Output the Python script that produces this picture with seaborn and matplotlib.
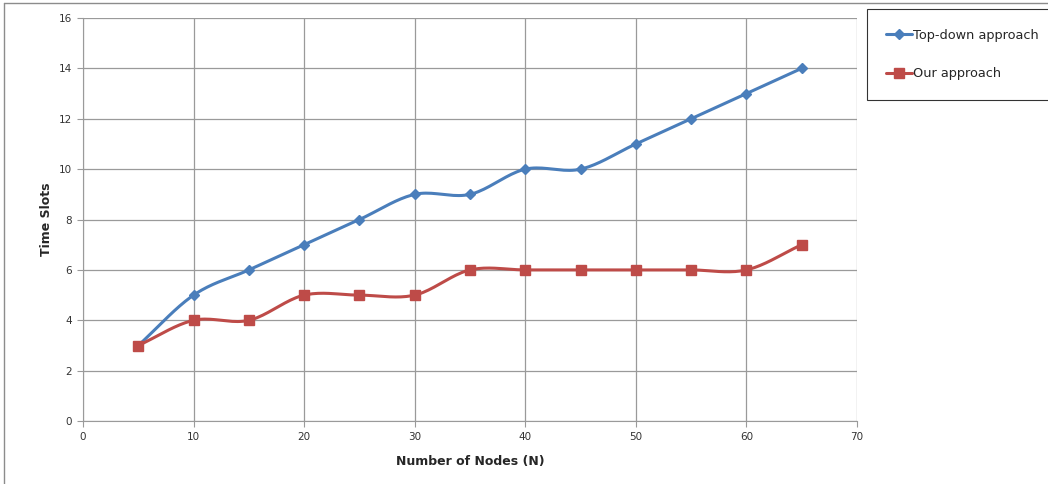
import numpy as np
import pandas as pd
import matplotlib.pyplot as plt
import seaborn as sns

nodes = [5, 10, 15, 20, 25, 30, 35, 40, 45, 50, 55, 60, 65]
top_down = [3, 5, 6, 7, 8, 9, 9, 10, 10, 11, 12, 13, 14]
ours = [3, 4, 4, 5, 5, 5, 6, 6, 6, 6, 6, 6, 7]
x_ticks = [0, 10, 20, 30, 40, 50, 60, 70]
y_ticks = [0, 2, 4, 6, 8, 10, 12, 14, 16]


def smooth(x, y, n=20):
    # Catmull-Rom curve through the points, like Excel's smoothed line
    x = np.asarray(x, float)
    y = np.asarray(y, float)
    px = np.concatenate([[2 * x[0] - x[1]], x, [2 * x[-1] - x[-2]]])
    py = np.concatenate([[2 * y[0] - y[1]], y, [2 * y[-1] - y[-2]]])
    xs, ys = [], []
    t = np.linspace(0, 1, n, endpoint=False)
    for i in range(1, len(px) - 2):
        for p, out in ((px, xs), (py, ys)):
            p0, p1, p2, p3 = p[i - 1], p[i], p[i + 1], p[i + 2]
            out.extend(0.5 * (2 * p1 + (-p0 + p2) * t
                              + (2 * p0 - 5 * p1 + 4 * p2 - p3) * t ** 2
                              + (-p0 + 3 * p1 - 3 * p2 + p3) * t ** 3))
    xs.append(x[-1])
    ys.append(y[-1])
    return np.array(xs), np.array(ys)


sns.set_style('white')
plt.rcParams['font.family'] = ['DejaVu Sans']

fig = plt.figure(figsize=(10.48, 4.84), dpi=100)
ax = fig.add_axes([0.0792, 0.130, 0.7385, 0.8328])

series = [('Top-down approach', top_down, '#4A7EBB', 'D', 5),
          ('Our approach', ours, '#BE4B48', 's', 6.5)]
handles = []
for name, vals, color, marker, ms in series:
    sx, sy = smooth(nodes, vals)
    sns.lineplot(x=sx, y=sy, ax=ax, color=color, linewidth=2.2, sort=False,
                 legend=False)
    ax.plot(nodes, vals, linestyle='none', marker=marker, markersize=ms,
            color=color, markeredgecolor=color)
    h, = ax.plot([], [], color=color, linewidth=2.2, marker=marker,
                 markersize=ms, label=name)
    handles.append(h)

if ax.get_legend() is not None:
    ax.get_legend().remove()

ax.set_xlim(0, 70)
ax.set_ylim(0, 16)
ax.set_xticks(x_ticks)
ax.set_yticks(y_ticks)
ax.grid(True, color='#9a9a9a', linewidth=0.9)
ax.set_axisbelow(True)
for side in ['top', 'right']:
    ax.spines[side].set_visible(False)
for side in ['left', 'bottom']:
    ax.spines[side].set_color('#9a9a9a')
ax.tick_params(axis='both', direction='out', length=4, color='#9a9a9a',
               labelsize=7.5, labelcolor='#333333', pad=4, bottom=True, left=True)

ax.set_xlabel('Number of Nodes (N)', fontsize=9, fontweight='bold', labelpad=9)
ax.set_ylabel('Time Slots', fontsize=9, fontweight='bold', labelpad=4)

leg = fig.legend(handles=handles, loc='upper left', bbox_to_anchor=(0.827, 0.981),
                 frameon=True, fontsize=9.3, handlelength=2.0, handletextpad=0.1,
                 labelspacing=2.0, borderpad=1.5, borderaxespad=0, fancybox=False)
leg.get_frame().set_edgecolor('black')
leg.get_frame().set_linewidth(0.8)

# outer chart border
fig.add_artist(plt.Line2D([0.004, 0.004], [0, 0.994], color='#8c8c8c', linewidth=1))
fig.add_artist(plt.Line2D([0.004, 1], [0.994, 0.994], color='#8c8c8c', linewidth=1))

fig.savefig('out.png', dpi=100)
